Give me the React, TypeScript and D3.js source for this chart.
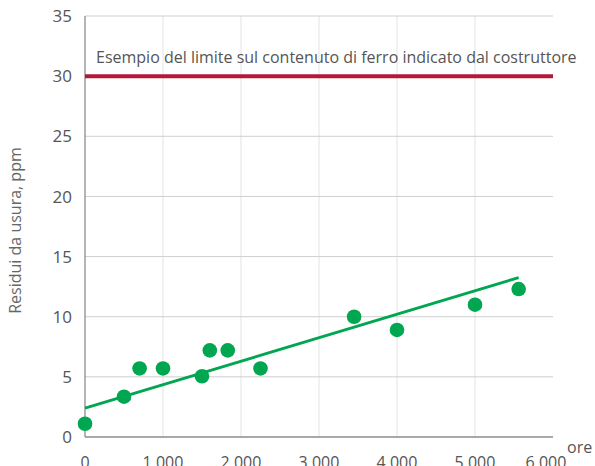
import React from 'react';
import * as d3 from 'd3';

// ore di funzionamento e residui di ferro misurati
const hours = [0, 500, 700, 1000, 1500, 1600, 1830, 2250, 3450, 4000, 5000, 5560];
const residues = [1.1, 3.35, 5.7, 5.7, 5.05, 7.2, 7.2, 5.7, 10, 8.9, 11, 12.3];

// retta di tendenza (estremi)
const trendHours = [0, 5560];
const trendValues = [2.4, 13.25];

const limitValue = 30;
const limitLabel = 'Esempio del limite sul contenuto di ferro indicato dal costruttore';

const xTicks = [0, 1000, 2000, 3000, 4000, 5000, 6000];
const yTicks = [0, 5, 10, 15, 20, 25, 30, 35];

const width = 595;
const height = 466;
const margin = { top: 16, right: 42, bottom: 29, left: 85 };

const x = d3
  .scaleLinear()
  .domain([0, 6000])
  .range([margin.left, width - margin.right]);

const y = d3
  .scaleLinear()
  .domain([0, 35])
  .range([height - margin.bottom, margin.top]);

const it = d3.formatLocale({ decimal: ',', thousands: '.', grouping: [3], currency: ['', '€'] });
const fmt = it.format(',');

const green = '#00a650';
const font = '"Open Sans", "Noto Sans", sans-serif';

const trendLine = d3
  .line<number>()
  .x(d => x(d))
  .y((d, i) => y(trendValues[i]));

export default function App() {
  return (
    <svg
      width={width}
      height={height}
      style={{ position: 'absolute', left: 0, top: 0, background: '#fff' }}
      fontFamily={font}
    >
      {/* griglia */}
      {xTicks.slice(1, -1).map(t => (
        <line key={'gx' + t} x1={x(t)} x2={x(t)} y1={y(35)} y2={y(0)} stroke="#e3e3e3" strokeWidth={1} />
      ))}
      {yTicks.slice(1).map(t => (
        <line key={'gy' + t} x1={x(0)} x2={x(6000)} y1={y(t)} y2={y(t)} stroke="#cfcfcf" strokeWidth={1} />
      ))}

      {/* assi */}
      <line x1={x(0)} x2={x(0)} y1={y(35)} y2={y(0)} stroke="#8c8c8c" strokeWidth={1.3} />
      <line x1={x(0)} x2={x(6000)} y1={y(0)} y2={y(0)} stroke="#8c8c8c" strokeWidth={1.3} />

      {yTicks.map(t => (
        <text key={'ty' + t} x={x(0) - 13} y={y(t)} dy="0.36em" textAnchor="end" fontSize={17} fill="#555">
          {t}
        </text>
      ))}
      {xTicks.map((t, i) => (
        <text
          key={'tx' + t}
          x={x(t)}
          dx={i === xTicks.length - 1 ? -7 : 0}
          y={height + 2}
          textAnchor="middle"
          fontSize={16}
          fill="#555"
        >
          {fmt(t)}
        </text>
      ))}
      <text x={x(6000) + 14} y={453} fontSize={16} fill="#555">
        ore
      </text>
      <text
        transform={`translate(21,${(y(0) + y(35)) / 2 + 4}) rotate(-90)`}
        textAnchor="middle"
        fontSize={16}
        fill="#666"
      >
        Residui da usura, ppm
      </text>

      {/* limite del costruttore */}
      <line x1={x(0)} x2={x(6000)} y1={y(limitValue)} y2={y(limitValue)} stroke="#b2183a" strokeWidth={4} />
      <text x={x(0) + 11} y={y(limitValue) - 13} fontSize={16} fill="#555">
        {limitLabel}
      </text>

      {/* tendenza */}
      <path d={trendLine(trendHours) ?? ''} fill="none" stroke={green} strokeWidth={2.8} />

      {/* punti */}
      {hours.map((h, i) => (
        <circle key={'p' + i} cx={x(h)} cy={y(residues[i])} r={7.3} fill={green} />
      ))}
    </svg>
  );
}
